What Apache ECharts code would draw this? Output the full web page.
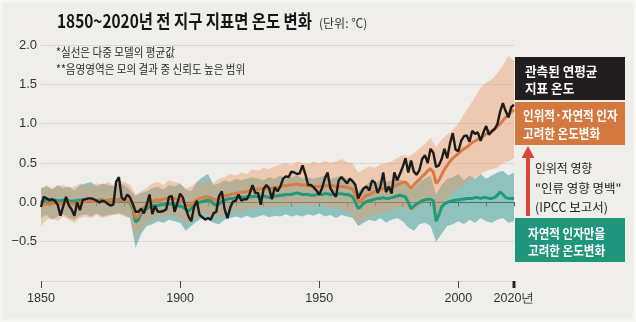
<!DOCTYPE html>
<html><head><meta charset="utf-8">
<script src="https://cdn.jsdelivr.net/npm/echarts@6/dist/echarts.min.js"></script>
<style>html,body{margin:0;padding:0;background:#efeeeb}#c{width:636px;height:322px}</style>
</head><body><div id="c"></div>
<script>
// ---- data (°C, relative to 1850-1900) ----
const startYear = 1850; // annual series start, one value per year to 2020
const observed = [
 -0.06, 0.07, 0.05, 0.03, 0.04, 0.02,-0.03,-0.17,-0.05, 0.07,
 -0.04,-0.09,-0.17, 0.00,-0.10, 0.03, 0.04, 0.05, 0.05, 0.04,
  0.02, 0.00, 0.02, 0.01,-0.02,-0.04,-0.03, 0.26, 0.32, 0.06,
  0.03, 0.10, 0.06,-0.02,-0.12,-0.12,-0.08,-0.14,-0.03, 0.10,
 -0.15,-0.05,-0.12,-0.12,-0.11,-0.09, 0.07, 0.08,-0.12,-0.01,
  0.11, 0.06,-0.07,-0.18,-0.24,-0.06, 0.02,-0.16,-0.19,-0.22,
 -0.20,-0.22,-0.14,-0.12, 0.08, 0.14,-0.09,-0.20,-0.07, 0.01,
  0.02, 0.10, 0.02, 0.04, 0.04, 0.11, 0.22, 0.12, 0.12,-0.03,
  0.17, 0.22, 0.18, 0.04, 0.19, 0.14, 0.20, 0.30, 0.33, 0.32,
  0.39, 0.38, 0.36, 0.37, 0.47, 0.36, 0.22, 0.22, 0.19, 0.15,
  0.10, 0.18, 0.30, 0.38, 0.18, 0.12, 0.07, 0.28, 0.32, 0.28,
  0.24, 0.30, 0.27, 0.22, 0.05, 0.12, 0.18, 0.20, 0.15, 0.28,
  0.25, 0.12, 0.20, 0.38, 0.13, 0.20, 0.11, 0.38, 0.28, 0.36,
  0.45, 0.56, 0.38, 0.53, 0.39, 0.35, 0.41, 0.55, 0.60, 0.50,
  0.68, 0.63, 0.45, 0.47, 0.55, 0.68, 0.56, 0.75, 0.88, 0.67,
  0.65, 0.78, 0.84, 0.85, 0.77, 0.91, 0.87, 0.89, 0.78, 0.89,
  0.97, 0.86, 0.90, 0.93, 0.99, 1.15, 1.26, 1.16, 1.08, 1.21,
  1.24
];
const humanNatural = [
 -0.03,-0.02,-0.02,-0.03,-0.02,-0.01,-0.01,-0.02,-0.01, 0.00,
  0.00,-0.02,-0.02,-0.01, 0.00, 0.01, 0.02, 0.02, 0.02, 0.01,
  0.01, 0.02, 0.02, 0.02, 0.02, 0.03, 0.03, 0.03, 0.04, 0.03,
  0.02, 0.02, 0.01,-0.05,-0.20,-0.18,-0.10,-0.06,-0.04,-0.02,
  0.01, 0.03, 0.03, 0.03, 0.04, 0.05, 0.05, 0.05, 0.05, 0.04,
  0.03, 0.02,-0.02,-0.05,-0.03, 0.00, 0.03, 0.05, 0.06, 0.07,
  0.07, 0.06, 0.04, 0.03, 0.05, 0.07, 0.08, 0.09, 0.10, 0.11,
  0.11, 0.12, 0.13, 0.13, 0.14, 0.15, 0.16, 0.16, 0.17, 0.17,
  0.18, 0.18, 0.17, 0.18, 0.19, 0.19, 0.20, 0.21, 0.21, 0.22,
  0.22, 0.23, 0.23, 0.22, 0.22, 0.22, 0.21, 0.21, 0.20, 0.20,
  0.20, 0.20, 0.21, 0.21, 0.21, 0.21, 0.20, 0.20, 0.20, 0.20,
  0.19, 0.18, 0.17, 0.10, 0.00, 0.02, 0.06, 0.09, 0.10, 0.12,
  0.14, 0.15, 0.16, 0.18, 0.17, 0.18, 0.19, 0.21, 0.22, 0.24,
  0.25, 0.26, 0.22, 0.18, 0.22, 0.26, 0.29, 0.33, 0.36, 0.40,
  0.43, 0.38, 0.24, 0.28, 0.35, 0.42, 0.47, 0.52, 0.56, 0.59,
  0.62, 0.65, 0.68, 0.70, 0.73, 0.76, 0.78, 0.80, 0.82, 0.84,
  0.87, 0.89, 0.91, 0.93, 0.96, 1.00, 1.04, 1.08, 1.11, 1.15,
  1.18
];
const naturalOnly = [
  0.00, 0.02, 0.03, 0.02, 0.02, 0.03, 0.02, 0.02, 0.03, 0.03,
  0.02, 0.01, 0.02, 0.02, 0.03, 0.03, 0.03, 0.02, 0.02, 0.02,
  0.02, 0.03, 0.03, 0.02, 0.02, 0.03, 0.03, 0.03, 0.03, 0.02,
  0.02, 0.01, 0.00,-0.08,-0.25,-0.22,-0.14,-0.10,-0.08,-0.06,
 -0.05,-0.04,-0.04,-0.03,-0.03,-0.02,-0.02,-0.02,-0.03,-0.04,
 -0.05,-0.06,-0.09,-0.11,-0.08,-0.04,-0.02, 0.00, 0.01, 0.02,
  0.03, 0.02,-0.02,-0.04,-0.02, 0.01, 0.03, 0.04, 0.05, 0.05,
  0.06, 0.06, 0.07, 0.06, 0.07, 0.07, 0.07, 0.08, 0.07, 0.07,
  0.08, 0.07, 0.06, 0.07, 0.08, 0.08, 0.09, 0.09, 0.10, 0.10,
  0.10, 0.11, 0.12, 0.11, 0.10, 0.10, 0.10, 0.09, 0.09, 0.10,
  0.10, 0.10, 0.11, 0.11, 0.10, 0.10, 0.10, 0.11, 0.11, 0.10,
  0.10, 0.09, 0.07, 0.00,-0.08,-0.05,-0.01, 0.01, 0.02, 0.03,
  0.04, 0.05, 0.05, 0.06, 0.05, 0.05, 0.06, 0.07, 0.08, 0.09,
  0.08, 0.07, 0.00,-0.08,-0.05,-0.02, 0.00, 0.02, 0.03, 0.04,
  0.04, 0.02,-0.24,-0.16,-0.06,-0.02, 0.00, 0.01, 0.02, 0.03,
  0.03, 0.04, 0.04, 0.05, 0.05, 0.05, 0.06, 0.06, 0.05, 0.06,
  0.06, 0.05, 0.05, 0.06, 0.09, 0.13, 0.10, 0.06, 0.05, 0.05,
  0.05
];
// shaded ranges, one value every 2 years from 1850 to 2020
const bandStart = 1850, bandStep = 2;
const humanUpper = [
 0.16,0.22,0.18,0.20,0.22,0.18,0.20,0.24,0.22,0.20,
 0.24,0.22,0.26,0.22,0.28,0.26,0.22,0.10,0.14,0.18,
 0.24,0.26,0.22,0.28,0.26,0.24,0.18,0.20,0.26,0.24,
 0.28,0.24,0.30,0.32,0.36,0.34,0.38,0.36,0.42,0.40,
 0.44,0.42,0.46,0.48,0.50,0.47,0.52,0.50,0.48,0.52,
 0.49,0.53,0.50,0.52,0.55,0.51,0.50,0.38,0.42,0.46,
 0.44,0.48,0.50,0.52,0.56,0.60,0.58,0.62,0.68,0.74,
 0.82,0.70,0.80,0.86,0.92,1.00,1.12,1.22,1.34,1.46,
 1.52,1.56,1.64,1.74,1.86,1.80
];
const humanLower = [
 -0.30,-0.22,-0.20,-0.24,-0.18,-0.22,-0.26,-0.20,-0.18,-0.20,
 -0.16,-0.20,-0.18,-0.16,-0.15,-0.18,-0.20,-0.45,-0.34,-0.26,
 -0.22,-0.18,-0.20,-0.16,-0.18,-0.20,-0.28,-0.24,-0.18,-0.16,
 -0.15,-0.18,-0.20,-0.14,-0.12,-0.10,-0.12,-0.08,-0.10,-0.06,
 -0.08,-0.05,-0.07,-0.04,-0.06,-0.03,-0.05,-0.02,-0.04,-0.06,
 -0.03,-0.05,-0.08,-0.06,-0.10,-0.12,-0.14,-0.28,-0.22,-0.18,
 -0.16,-0.14,-0.12,-0.10,-0.08,-0.06,-0.10,-0.12,-0.06,-0.02,
  0.02,-0.20,-0.08, 0.04, 0.12, 0.18, 0.22, 0.28, 0.32, 0.36,
  0.40, 0.42, 0.44, 0.50, 0.52, 0.56
];
const naturalUpper = [
 0.18,0.20,0.16,0.22,0.18,0.20,0.15,0.22,0.24,0.26,
 0.20,0.24,0.22,0.20,0.24,0.22,0.16,0.08,0.12,0.14,
 0.18,0.20,0.16,0.22,0.20,0.24,0.16,0.14,0.26,0.32,
 0.36,0.22,0.24,0.28,0.26,0.30,0.28,0.30,0.32,0.30,
 0.28,0.32,0.30,0.34,0.30,0.32,0.34,0.30,0.32,0.30,
 0.32,0.34,0.30,0.32,0.34,0.30,0.28,0.14,0.20,0.26,
 0.24,0.28,0.26,0.28,0.30,0.28,0.20,0.18,0.26,0.30,
 0.34,0.10,0.22,0.30,0.32,0.36,0.28,0.34,0.30,0.36,
 0.30,0.34,0.38,0.40,0.34,0.38
];
const naturalLower = [
 -0.20,-0.16,-0.22,-0.18,-0.15,-0.20,-0.22,-0.17,-0.15,-0.18,
 -0.14,-0.18,-0.16,-0.15,-0.14,-0.16,-0.20,-0.58,-0.40,-0.30,
 -0.28,-0.24,-0.26,-0.22,-0.24,-0.26,-0.36,-0.30,-0.24,-0.20,
 -0.22,-0.26,-0.28,-0.22,-0.20,-0.18,-0.20,-0.17,-0.20,-0.18,
 -0.16,-0.19,-0.17,-0.18,-0.15,-0.18,-0.16,-0.18,-0.15,-0.17,
 -0.14,-0.18,-0.16,-0.20,-0.16,-0.18,-0.20,-0.30,-0.26,-0.22,
 -0.24,-0.20,-0.26,-0.22,-0.20,-0.24,-0.32,-0.36,-0.28,-0.26,
 -0.30,-0.50,-0.40,-0.30,-0.28,-0.24,-0.28,-0.22,-0.26,-0.20,
 -0.24,-0.26,-0.22,-0.20,-0.26,-0.24
];
const yMin = -1, yMax = 2, yStep = 0.5;
const xMin = 1850, xMax = 2020;
const xLabelSuffixYear = 2020;

// ---- chart ----
const KR = '"Noto Sans CJK KR", sans-serif';
const NUM = '"Liberation Sans", Arial, sans-serif';
const pairs = arr => arr.map((v, i) => [startYear + i, v]);

function bandSeries(up, lo, color) {
  return {
    type: 'custom', silent: true, z: 1,
    data: [[bandStart, 0]],
    renderItem: function (params, api) {
      const pts = [];
      for (let i = 0; i < up.length; i++) pts.push(api.coord([bandStart + i * bandStep, up[i]]));
      for (let i = lo.length - 1; i >= 0; i--) pts.push(api.coord([bandStart + i * bandStep, lo[i]]));
      return { type: 'polygon', shape: { points: pts }, style: { fill: color } };
    }
  };
}

const txt = (x, y, text, font, fill, sx) => ({
  type: 'text', x: x, y: y, scaleX: sx || 1, z: 100,
  style: { text: text, font: font, fill: fill, textVerticalAlign: 'middle' }
});

const graphics = [
  { type: 'rect', shape: { x: 1, y: 1, width: 634, height: 320 }, style: { fill: 'none', stroke: '#f7f7f5', lineWidth: 3 }, z: 100 },
  txt(57, 21, '1850~2020년 전 지구 지표면 온도 변화', 'bold 18px ' + KR, '#151515', 0.855),
  txt(319, 23, '(단위: ℃)', '12px ' + KR, '#333', 1),
  txt(56, 52, '*실선은 다중 모델의 평균값', '12px ' + KR, '#2a2a2a', 0.88),
  txt(56, 69, '**음영영역은 모의 결과 중 신뢰도 높은 범위', '12px ' + KR, '#2a2a2a', 0.88),
  { type: 'rect', shape: { x: 515, y: 57, width: 110, height: 43 }, style: { fill: '#221e1f' }, z: 90 },
  txt(525, 71.5, '관측된 연평균', 'bold 13px ' + KR, '#fff', 0.97),
  txt(525, 88, '지표 온도', 'bold 13px ' + KR, '#fff', 0.97),
  { type: 'rect', shape: { x: 515, y: 102, width: 110, height: 43 }, style: { fill: '#d4783f' }, z: 90 },
  txt(523, 115, '인위적·자연적 인자', 'bold 13px ' + KR, '#fff', 0.89),
  txt(523, 133.5, '고려한 온도변화', 'bold 13px ' + KR, '#fff', 0.89),
  { type: 'rect', shape: { x: 526, y: 156, width: 4, height: 60 }, style: { fill: '#d9463a' }, z: 90 },
  { type: 'polygon', shape: { points: [[521.5, 158], [534.5, 158], [528, 146]] }, style: { fill: '#d9463a' }, z: 90 },
  txt(535, 168, '인위적 영향', '12.5px ' + KR, '#222', 0.95),
  txt(535, 188, '"인류 영향 명백"', '12.5px ' + KR, '#222', 1),
  txt(535, 207, '(IPCC 보고서)', '12.5px ' + KR, '#222', 1),
  { type: 'rect', shape: { x: 515, y: 218, width: 110, height: 44 }, style: { fill: '#1f957b' }, z: 90 },
  txt(528, 233, '자연적 인자만을', 'bold 13px ' + KR, '#fff', 0.89),
  txt(528, 250, '고려한 온도변화', 'bold 13px ' + KR, '#fff', 0.89)
];

const chart = echarts.init(document.getElementById('c'), null, { renderer: 'canvas' });
const option = {
  backgroundColor: '#efeeeb',
  animation: false,
  grid: { left: 41, right: 122, top: 45, bottom: 41 },
  xAxis: [
    { type: 'value', min: xMin, max: xMax, interval: 10, position: 'bottom',
      axisLine: { show: true, lineStyle: { color: '#3a3a3a', width: 1 } },
      axisTick: { show: true, length: 4, lineStyle: { color: '#555' } },
      axisLabel: { show: false }, splitLine: { show: false } },
    { type: 'value', min: xMin, max: xMax, interval: 50, position: 'bottom',
      axisLine: { show: false },
      axisTick: { show: true, length: 7, lineStyle: { color: '#444' } },
      axisLabel: { show: true, margin: 11, fontSize: 12.5, fontFamily: NUM, color: '#333',
        formatter: v => v === xLabelSuffixYear ? v + '년' : String(v) },
      splitLine: { show: false } }
  ],
  yAxis: {
    type: 'value', min: yMin, max: yMax, interval: yStep,
    axisLine: { show: false }, axisTick: { show: false },
    axisLabel: { margin: 4, fontSize: 13, fontFamily: NUM, color: '#333',
      formatter: v => v === yMin ? '' : (v < 0 ? '−' : '') + Math.abs(v).toFixed(1) },
    splitLine: { lineStyle: { color: '#d9d7d3', width: 1 } }
  },
  series: [
    bandSeries(naturalUpper, naturalLower, 'rgba(64,158,152,0.55)'),
    bandSeries(humanUpper, humanLower, 'rgba(232,156,104,0.45)'),
    { type: 'line', data: pairs(naturalOnly), symbol: 'none', z: 3,
      lineStyle: { color: '#1f9a7b', width: 3 } },
    { type: 'line', data: pairs(humanNatural), symbol: 'none', z: 4,
      lineStyle: { color: '#d97c43', width: 3 } },
    { type: 'line', data: pairs(observed), symbol: 'none', z: 5,
      lineStyle: { color: '#1c1a1a', width: 2.4 } }
  ],
  graphic: graphics
};
chart.setOption(option);
const p = chart.convertToPixel({ xAxisIndex: 0, yAxisIndex: 0 }, [xMax, yMin]);
chart.setOption({ graphic: graphics.concat([
  { type: 'rect', shape: { x: p[0] - 1.5, y: p[1], width: 3, height: 7 }, style: { fill: '#222' }, z: 100 }
]) });
</script></body></html>
